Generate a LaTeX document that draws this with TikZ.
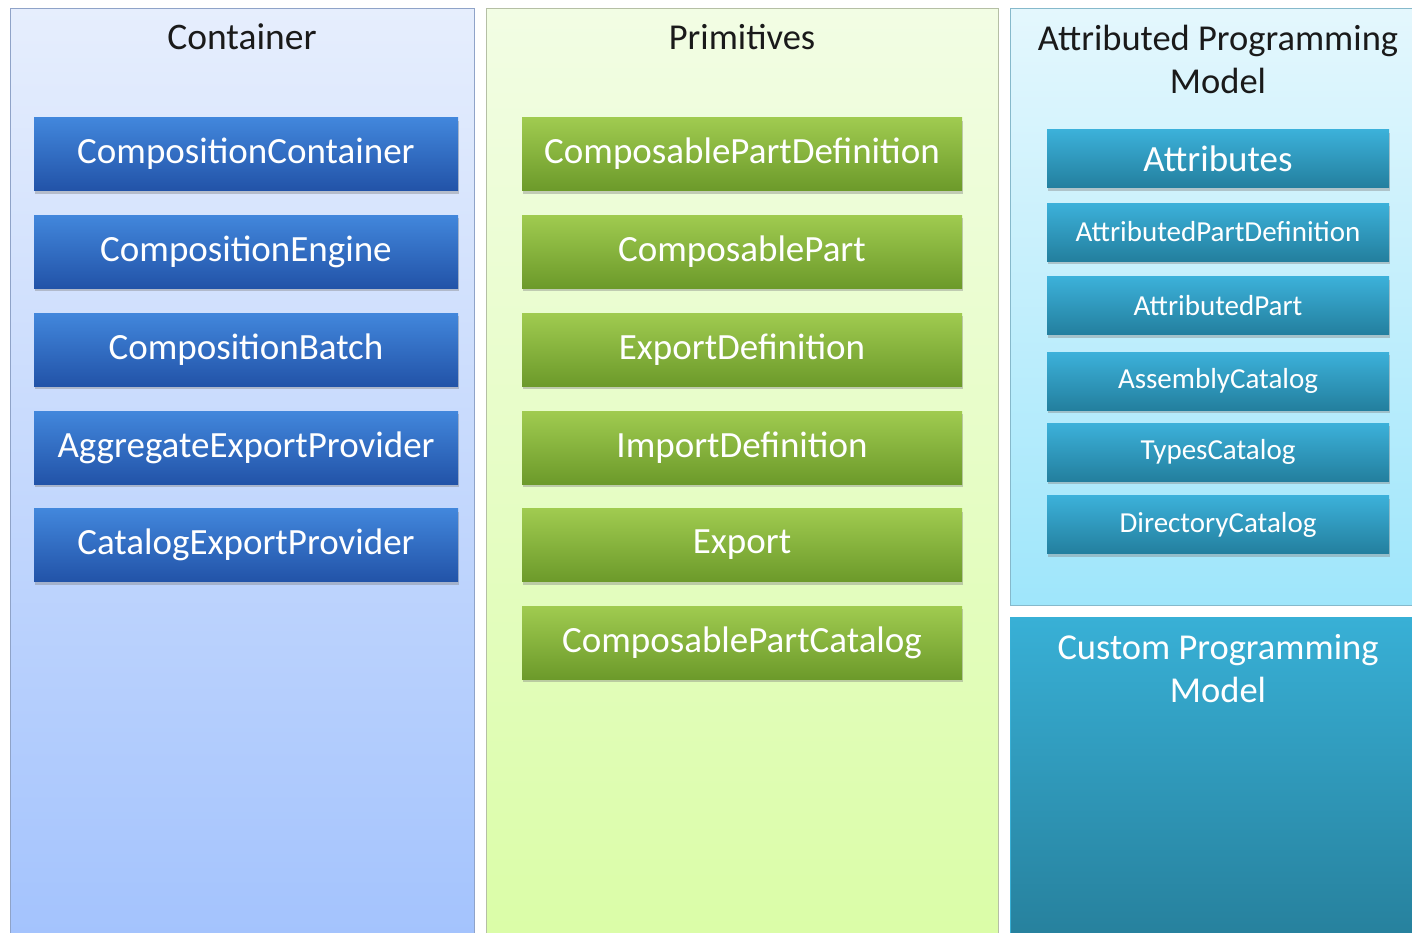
\documentclass[tikz,border=0pt]{standalone}
\usepackage{fontspec}
\setmainfont{Carlito}
\usetikzlibrary{shadows}
\definecolor{cpanA}{HTML}{E6EEFD}
\definecolor{cpanB}{HTML}{A2C2FD}
\definecolor{cpanD}{HTML}{8FA3C8}
\definecolor{ppanA}{HTML}{F2FDE4}
\definecolor{ppanB}{HTML}{DAFDA6}
\definecolor{ppanD}{HTML}{B5BFA5}
\definecolor{apanA}{HTML}{E4F7FD}
\definecolor{apanB}{HTML}{9FE6FB}
\definecolor{apanD}{HTML}{86B9CB}
\definecolor{cusA}{HTML}{38B0D6}
\definecolor{cusB}{HTML}{267F9B}
\definecolor{blueA}{HTML}{4287DC}
\definecolor{blueB}{HTML}{2253A8}
\definecolor{greenA}{HTML}{A0CB50}
\definecolor{greenB}{HTML}{6C9A2A}
\definecolor{tealA}{HTML}{3CB1DA}
\definecolor{tealB}{HTML}{237F9E}
\definecolor{titletext}{HTML}{1A1A1A}
\tikzset{
  panel/.style={draw=#1, line width=1pt, anchor=north west, inner sep=0pt},
  title/.style={text=titletext, align=center, font=\fontsize{37.5}{43}\selectfont},
  bbox/.style={minimum width=424pt, minimum height=73pt, inner sep=0pt, text=white,
     top color=blueA, bottom color=blueB, draw=none,
     drop shadow={shadow xshift=1pt, shadow yshift=-3pt, opacity=0.4},
     font=\fontsize{37}{42}\selectfont},
  gbox/.style={minimum width=440pt, minimum height=73pt, inner sep=0pt, text=white,
     top color=greenA, bottom color=greenB, draw=none,
     drop shadow={shadow xshift=1pt, shadow yshift=-3pt, opacity=0.4},
     font=\fontsize{37}{42}\selectfont},
  tbox/.style={minimum width=342pt, minimum height=58pt, inner sep=0pt, text=white,
     top color=tealA, bottom color=tealB, draw=none,
     drop shadow={shadow xshift=1pt, shadow yshift=-3pt, opacity=0.4},
     font=\fontsize{29}{34}\selectfont},
}
\begin{document}
\begin{tikzpicture}[x=1pt,y=-1pt]
\useasboundingbox (0,0) rectangle (1412,932);
\clip (0,0) rectangle (1412,932);
\fill[white] (0,0) rectangle (1412,932);
% panels
\node[panel=cpanD, top color=cpanA, bottom color=cpanB, minimum width=464pt, minimum height=950pt] (pcont) at (10,8) {};
\node[panel=ppanD, top color=ppanA, bottom color=ppanB, minimum width=512pt, minimum height=950pt] (pprim) at (486,8) {};
\node[panel=apanD, top color=apanA, bottom color=apanB, minimum width=420pt, minimum height=597pt] (pattr) at (1010,8) {};
\node[panel=cusA, top color=cusA, bottom color=cusB, minimum width=420pt, minimum height=330pt] (pcust) at (1010,617) {};
% titles
\node[title] (tcont) at (242,37) {Container};
\node[title, font=\fontsize{36.5}{43}\selectfont] (tprim) at (742,37) {Primitives};
\node[title, font=\fontsize{36.5}{43}\selectfont] (tattr) at (1218,59) {Attributed Programming\\Model};
\node[title, text=white, font=\fontsize{36.5}{43}\selectfont] (tcust) at (1218,669) {Custom Programming\\Model};
% container boxes
\node[bbox] (cc) at (246,154) {CompositionContainer};
\node[bbox] (ce) at (246,251.5) {CompositionEngine};
\node[bbox] (cb) at (246,349.5) {CompositionBatch};
\node[bbox] (aep) at (246,447.5) {AggregateExportProvider};
\node[bbox] (cep) at (246,545) {CatalogExportProvider};
% primitives boxes
\node[gbox] (cpd) at (742,154) {ComposablePartDefinition};
\node[gbox] (cp) at (742,251.5) {ComposablePart};
\node[gbox] (ed) at (742,349.5) {ExportDefinition};
\node[gbox] (id) at (742,447.5) {ImportDefinition};
\node[gbox] (ex) at (742,545) {Export};
\node[gbox] (cpc) at (742,642.5) {ComposablePartCatalog};
% attributed boxes
\node[tbox, font=\fontsize{37}{42}\selectfont] (at) at (1218,158.5) {Attributes};
\node[tbox] (apd) at (1218,232) {AttributedPartDefinition};
\node[tbox] (ap) at (1218,305.5) {AttributedPart};
\node[tbox] (ac) at (1218,381) {AssemblyCatalog};
\node[tbox] (tc) at (1218,452) {TypesCatalog};
\node[tbox] (dc) at (1218,524.5) {DirectoryCatalog};
\end{tikzpicture}
\end{document}
